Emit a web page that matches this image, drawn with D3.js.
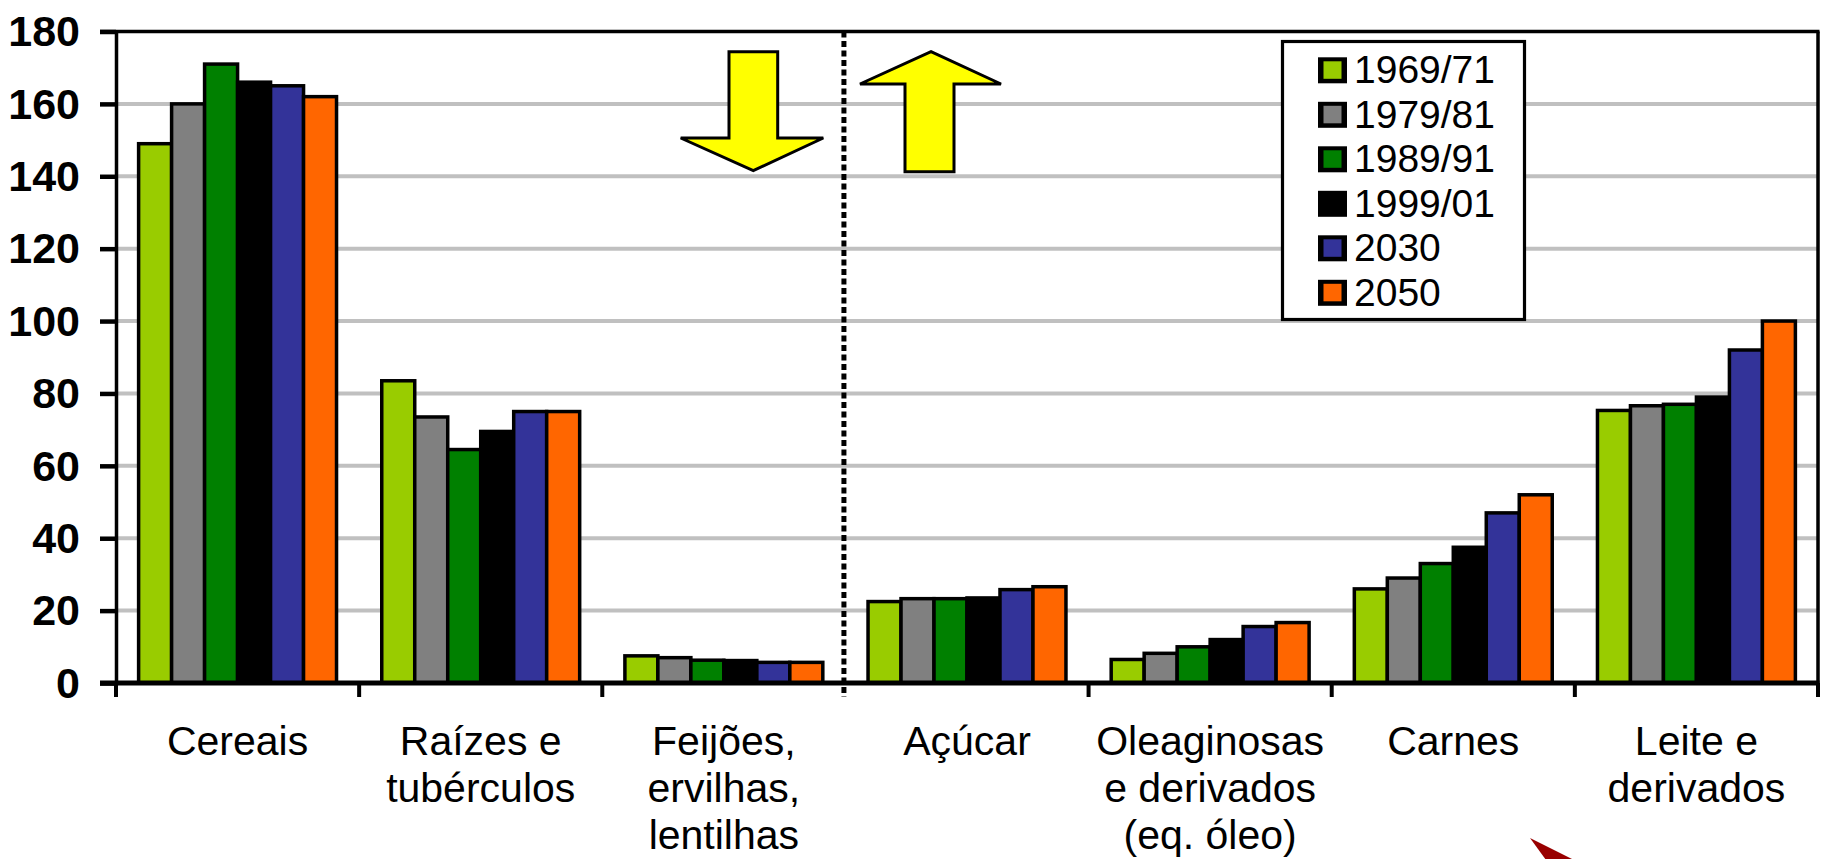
<!DOCTYPE html>
<html>
<head>
<meta charset="utf-8">
<script src="https://cdn.jsdelivr.net/npm/d3@7"></script>
<style>
  html, body { margin: 0; padding: 0; background: #fff; }
  svg { display: block; }
  text { font-family: "Liberation Sans", Arial, sans-serif; fill: #000; }
</style>
</head>
<body>
<svg id="chart" width="1825" height="859"></svg>
<script>
// Food groups (x categories), multi-line labels
const categories = ["Cereais", "Raízes e tubérculos", "Feijões, ervilhas, lentilhas",
  "Açúcar", "Oleaginosas e derivados (eq. óleo)", "Carnes", "Leite e derivados"];
const categoryLines = [
  ["Cereais"],
  ["Raízes e", "tubérculos"],
  ["Feijões,", "ervilhas,", "lentilhas"],
  ["Açúcar"],
  ["Oleaginosas", "e derivados", "(eq. óleo)"],
  ["Carnes"],
  ["Leite e", "derivados"]
];

// Periods (series)
const periods = ["1969/71", "1979/81", "1989/91", "1999/01", "2030", "2050"];
const periodColors = ["#99cc00", "#808080", "#008000", "#000000", "#333399", "#ff6600"];

// Consumption per period, one value per food group (same order as categories)
const v1969 = [149, 83.5, 7.5, 22.5, 6.5, 26, 75.3];
const v1979 = [160, 73.5, 7, 23.3, 8.2, 29, 76.6];
const v1989 = [171, 64.5, 6.3, 23.3, 10, 33, 77];
const v1999 = [166, 69.5, 6.2, 23.5, 12, 37.5, 79];
const v2030 = [165, 75, 5.7, 25.8, 15.6, 47, 92];
const v2050 = [162, 75, 5.7, 26.6, 16.7, 52, 100];
const seriesValues = [v1969, v1979, v1989, v1999, v2030, v2050];

const yTicks = [0, 20, 40, 60, 80, 100, 120, 140, 160, 180];

// ---- layout ----
const svg = d3.select("#chart");
const plot = { left: 116, right: 1818, top: 31.5, bottom: 683 };

const x0 = d3.scaleBand().domain(categories).range([plot.left, plot.right]).padding(0);
const groupGap = x0.bandwidth() * 0.093;
const x1 = d3.scaleBand().domain(periods).range([groupGap, x0.bandwidth() - groupGap]).padding(0);
const y = d3.scaleLinear().domain([0, 180]).range([plot.bottom, plot.top]);
const color = d3.scaleOrdinal().domain(periods).range(periodColors);

// gridlines
svg.append("g")
  .selectAll("line")
  .data(yTicks.filter(t => t > 0 && t < 180))
  .join("line")
  .attr("x1", plot.left).attr("x2", plot.right)
  .attr("y1", d => y(d)).attr("y2", d => y(d))
  .attr("stroke", "#c0c0c0").attr("stroke-width", 4);

// bars
const rows = categories.map((c, i) => ({
  category: c,
  values: periods.map((p, j) => ({ period: p, value: seriesValues[j][i] }))
}));

svg.append("g")
  .selectAll("g")
  .data(rows)
  .join("g")
  .attr("transform", d => `translate(${x0(d.category)},0)`)
  .selectAll("rect")
  .data(d => d.values)
  .join("rect")
  .attr("x", d => x1(d.period))
  .attr("width", x1.bandwidth())
  .attr("y", d => y(d.value))
  .attr("height", d => y(0) - y(d.value))
  .attr("fill", d => color(d.period))
  .attr("stroke", "#000")
  .attr("stroke-width", 3.5);

// y axis with outward ticks
const yAxis = svg.append("g")
  .attr("transform", `translate(${plot.left},0)`)
  .call(d3.axisLeft(y).tickValues(yTicks).tickSize(16).tickPadding(20).tickFormat(d3.format("d")));
yAxis.select(".domain").attr("stroke", "#000").attr("stroke-width", 3.5);
yAxis.selectAll(".tick line").attr("stroke", "#000").attr("stroke-width", 4.5);
yAxis.selectAll(".tick text")
  .style("font-family", "'Liberation Sans', Arial, sans-serif")
  .style("font-size", "43px")
  .style("font-weight", "bold")
  .attr("fill", "#000")
  .attr("dy", "0.33em");

// x axis: ticks on category boundaries
const boundaries = categories.map(c => x0(c)).concat([plot.right]);
const xAxis = svg.append("g");
xAxis.append("line")
  .attr("x1", plot.left - 16).attr("x2", plot.right + 1.5)
  .attr("y1", plot.bottom).attr("y2", plot.bottom)
  .attr("stroke", "#000").attr("stroke-width", 5);
xAxis.selectAll("line.tick")
  .data(boundaries.filter((b, i) => i !== 3))
  .join("line")
  .attr("class", "tick")
  .attr("x1", d => d).attr("x2", d => d)
  .attr("y1", plot.bottom).attr("y2", plot.bottom + 14)
  .attr("stroke", "#000").attr("stroke-width", 4);

// frame: top and right border
svg.append("line")
  .attr("x1", plot.left - 16).attr("x2", plot.right + 1.5)
  .attr("y1", plot.top).attr("y2", plot.top)
  .attr("stroke", "#000").attr("stroke-width", 3.5);
svg.append("line")
  .attr("x1", plot.right).attr("x2", plot.right)
  .attr("y1", plot.top).attr("y2", plot.bottom)
  .attr("stroke", "#000").attr("stroke-width", 3.5);

// category labels
const labelSize = 41, lineStep = 47;
svg.append("g")
  .selectAll("text")
  .data(categories)
  .join("text")
  .attr("text-anchor", "middle")
  .style("font-size", labelSize + "px")
  .each(function (c, i) {
    d3.select(this).selectAll("tspan")
      .data(categoryLines[i])
      .join("tspan")
      .attr("x", x0(c) + x0.bandwidth() / 2)
      .attr("y", (d, k) => 755 + k * lineStep)
      .text(d => d);
  });

// dashed divider between the two groups of foods
const divX = x0("Açúcar");
svg.append("line")
  .attr("x1", divX - 1.5).attr("x2", divX - 1.5)
  .attr("y1", plot.top).attr("y2", plot.bottom + 14)
  .attr("stroke", "#000").attr("stroke-width", 5)
  .attr("stroke-dasharray", "6,3.5");

// trend arrows (down on the left of the divider, up on the right)
const arrowStyle = sel => sel.attr("fill", "#ffff00").attr("stroke", "#000")
  .attr("stroke-width", 3).attr("stroke-linejoin", "miter");
const downArrow = [[729, 51.7], [777.7, 51.7], [777.7, 138], [823.3, 138],
  [753.3, 170.7], [680.7, 138], [729, 138]];
const upArrow = [[931, 51.7], [1001, 84], [954, 84], [954, 171.7],
  [905, 171.7], [905, 84], [860, 84]];
svg.append("polygon").attr("points", downArrow.map(p => p.join(",")).join(" ")).call(arrowStyle);
svg.append("polygon").attr("points", upArrow.map(p => p.join(",")).join(" ")).call(arrowStyle);

// legend
const legend = svg.append("g");
legend.append("rect")
  .attr("x", 1282.5).attr("y", 41.5).attr("width", 242).attr("height", 278)
  .attr("fill", "#fff").attr("stroke", "#000").attr("stroke-width", 3.2);
const items = legend.selectAll("g.item")
  .data(periods)
  .join("g")
  .attr("class", "item")
  .attr("transform", (d, i) => `translate(0,${70.3 + i * 44.5})`);
items.append("rect")
  .attr("x", 1318).attr("y", -13).attr("width", 29).attr("height", 26)
  .attr("fill", "#000");
items.append("rect")
  .attr("x", 1323.5).attr("y", -9).attr("width", 18).attr("height", 17.5)
  .attr("fill", d => color(d));
items.append("text")
  .attr("x", 1354).attr("y", 13)
  .style("font-size", "39px")
  .text(d => d);

// pointer tip at the lower edge
svg.append("polygon")
  .attr("points", "1530,838 1546,860 1574,860")
  .attr("fill", "#990000");
</script>
</body>
</html>
